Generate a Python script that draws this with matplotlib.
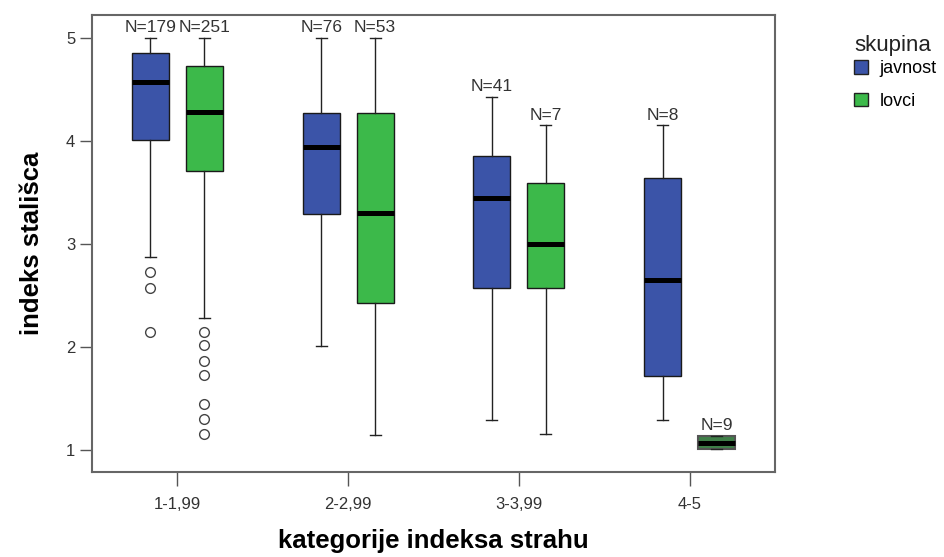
import matplotlib
matplotlib.use("Agg")
import matplotlib.pyplot as plt
from matplotlib.patches import Patch

categories = ["1-1,99", "2-2,99", "3-3,99", "4-5"]
groups = ["javnost", "lovci"]
colors = {"javnost": "#3b54a8", "lovci": "#3cb94a"}

# javnost
jav_n = [179, 76, 41, 8]
jav_whislo = [2.87, 2.01, 1.29, 1.29]
jav_q1 = [4.01, 3.29, 2.57, 1.72]
jav_med = [4.57, 3.94, 3.45, 2.65]
jav_q3 = [4.85, 4.27, 3.85, 3.64]
jav_whishi = [5.0, 5.0, 4.43, 4.15]
jav_fliers = [[2.73, 2.57, 2.15], [], [], []]

# lovci
lov_n = [251, 53, 7, 9]
lov_whislo = [2.28, 1.15, 1.16, 1.01]
lov_q1 = [3.71, 2.43, 2.57, 1.01]
lov_med = [4.28, 3.30, 3.00, 1.07]
lov_q3 = [4.73, 4.27, 3.59, 1.14]
lov_whishi = [5.0, 5.0, 4.15, 1.14]
lov_fliers = [[2.15, 2.02, 1.87, 1.73, 1.45, 1.30, 1.16], [], [], []]

series = {
    "javnost": (jav_n, jav_whislo, jav_q1, jav_med, jav_q3, jav_whishi, jav_fliers),
    "lovci": (lov_n, lov_whislo, lov_q1, lov_med, lov_q3, lov_whishi, lov_fliers),
}

plt.rcParams["font.family"] = ["Liberation Sans", "DejaVu Sans"]

fig = plt.figure(figsize=(9.44, 5.57), dpi=100)
ax = fig.add_axes([0.0975, 0.1526, 0.7235, 0.8204])

offsets = {"javnost": -0.158, "lovci": 0.158}
width = 0.216
for g in groups:
    n, wlo, q1, med, q3, whi, fl = series[g]
    stats = []
    for i in range(len(categories)):
        stats.append(dict(med=med[i], q1=q1[i], q3=q3[i], whislo=wlo[i],
                          whishi=whi[i], fliers=fl[i]))
    pos = [i + offsets[g] for i in range(len(categories))]
    res = ax.bxp(stats, positions=pos, widths=width, patch_artist=True,
                 showcaps=True, capwidths=0.065,
                 boxprops=dict(facecolor=colors[g], edgecolor="#1a1a1a", linewidth=1.0),
                 medianprops=dict(color="black", linewidth=3.6, solid_capstyle="butt"),
                 whiskerprops=dict(color="#222222", linewidth=1.0),
                 capprops=dict(color="#222222", linewidth=1.0),
                 flierprops=dict(marker="o", markerfacecolor="white",
                                 markeredgecolor="#444444", markersize=7, markeredgewidth=1.0))
    for i in range(len(categories)):
        ax.annotate(f"N={n[i]}", xy=(pos[i], whi[i]), xytext=(0, 2),
                    textcoords="offset points", ha="center", va="bottom",
                    fontsize=12.5, color="#333333")
    if g == "lovci":
        # the very small last box renders darker in the reference
        res["boxes"][3].set_facecolor("#3f7f48")
        res["boxes"][3].set_edgecolor("#555555")
        res["boxes"][3].set_linewidth(1.5)

ax.set_xlim(-0.5, 3.5)
ax.set_ylim(0.79, 5.22)
ax.set_xticks(range(len(categories)))
ax.set_xticklabels(categories)
ax.set_yticks([1, 2, 3, 4, 5])
ax.tick_params(axis="x", direction="out", length=10, width=1.0, color="#555555",
               labelsize=12, labelcolor="#333333", pad=8)
ax.tick_params(axis="y", direction="out", length=9, width=1.0, color="#555555",
               labelsize=12, labelcolor="#333333", pad=3)
for s in ax.spines.values():
    s.set_color("#666666")
    s.set_linewidth(1.5)

ax.set_xlabel("kategorije indeksa strahu", fontsize=18.5, fontweight="bold")
ax.set_ylabel("indeks stališca", fontsize=18.5, fontweight="bold")
ax.yaxis.set_label_coords(-0.07, 0.5)
ax.xaxis.set_label_coords(0.5, -0.125)

fig.text(893 / 944, 1 - 46 / 557, "skupina", ha="center", va="center",
         fontsize=16, color="#222222")
handles = [Patch(facecolor=colors[g], edgecolor="#222222", label=g) for g in groups]
leg = fig.legend(handles=handles, loc="upper left",
                 bbox_to_anchor=(854 / 944, (557 - 60) / 557), frameon=False, fontsize=13,
                 handlelength=0.8, handleheight=0.8,
                 handletextpad=0.6, labelspacing=0.85,
                 borderpad=0, borderaxespad=0)

fig.savefig("out.png", dpi=100, facecolor="white")
